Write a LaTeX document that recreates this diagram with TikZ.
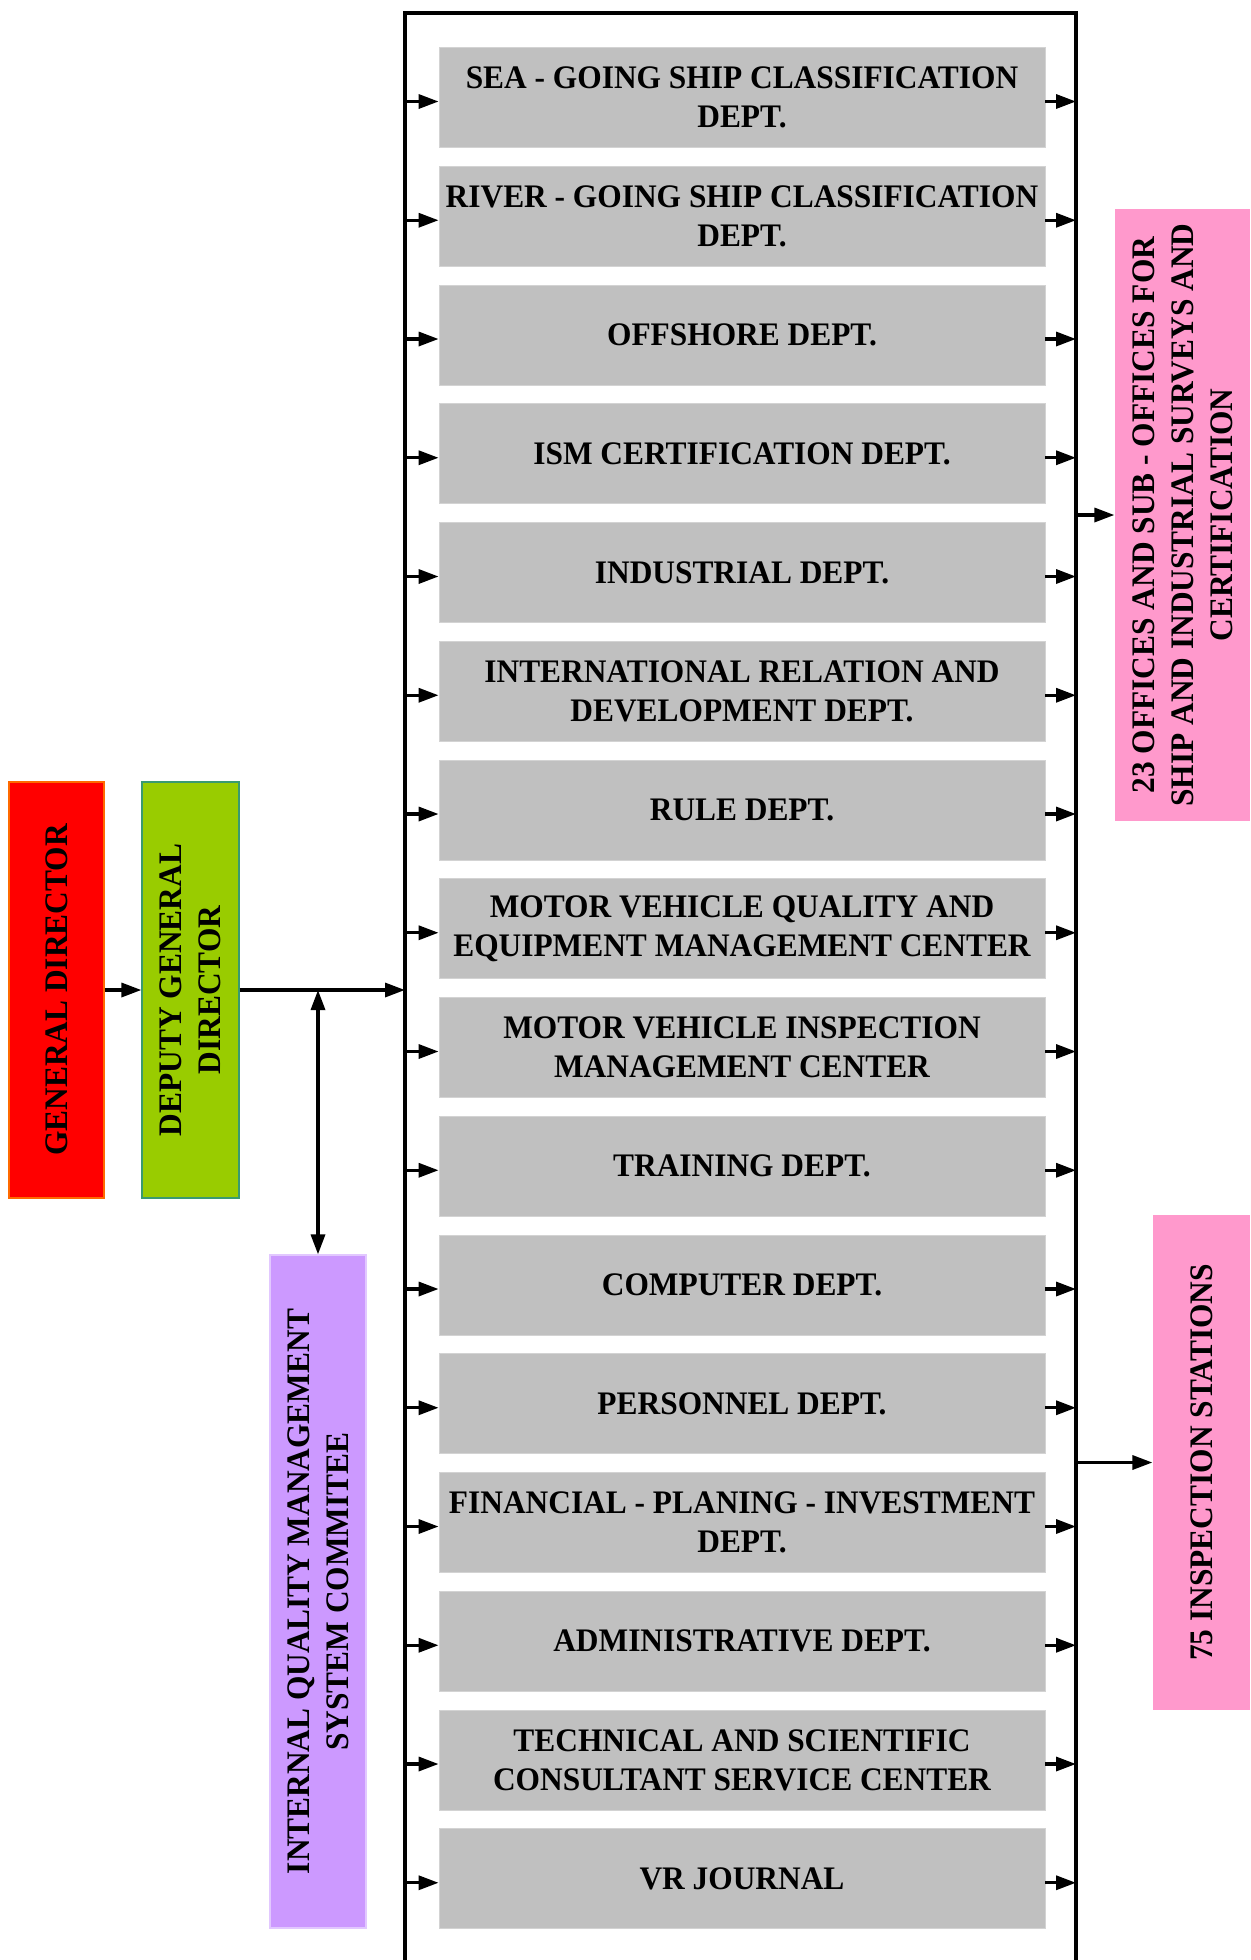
\documentclass[tikz,border=0pt]{standalone}
\usepackage{fontspec}
\setmainfont[FakeStretch=0.955]{Liberation Serif}
\usetikzlibrary{arrows.meta,calc}
\definecolor{boxgray}{HTML}{C0C0C0}
\definecolor{gdred}{HTML}{FF0000}
\definecolor{gdedge}{HTML}{FF6A00}
\definecolor{dgdgreen}{HTML}{99CC00}
\definecolor{dgdedge}{HTML}{3A9A70}
\definecolor{iqmpurple}{HTML}{CC99FF}
\definecolor{iqmedge}{HTML}{E2C8FF}
\definecolor{officepink}{HTML}{FF99CC}
\begin{document}
\begin{tikzpicture}[x=1bp,y=-1bp,
  every node/.style={font=\bfseries\fontsize{33}{39}\selectfont, align=center, inner sep=0pt},
  dept/.style={fill=boxgray, draw=boxgray!70, line width=0.8bp, minimum width=606bp, minimum height=100bp},
  vbox/.style={rotate=90, line width=1.2bp},
  conn/.style={line width=3.3bp, -{Triangle[length=20bp,width=14bp]}},
  dconn/.style={line width=3.3bp, {Triangle[length=20bp,width=14bp]}-{Triangle[length=20bp,width=14bp]}},
  frameline/.style={line width=3.5bp}
]
\useasboundingbox (0,0) rectangle (1250,1960);

% frame
\coordinate (frameL) at (405,13);
\coordinate (frameR) at (1076,13);
\draw[frameline] (405,1960) -- (frameL) -- (frameR) -- (1076,1960);

% departments
\foreach \i/\t in {
  0/{SEA - GOING SHIP CLASSIFICATION\\DEPT.},
  1/{RIVER - GOING SHIP CLASSIFICATION\\DEPT.},
  2/{OFFSHORE DEPT.},
  3/{ISM CERTIFICATION DEPT.},
  4/{INDUSTRIAL DEPT.},
  5/{INTERNATIONAL RELATION AND\\DEVELOPMENT DEPT.},
  6/{RULE DEPT.},
  7/{MOTOR VEHICLE QUALITY AND\\EQUIPMENT MANAGEMENT CENTER},
  8/{MOTOR VEHICLE INSPECTION\\MANAGEMENT CENTER},
  9/{TRAINING DEPT.},
  10/{COMPUTER DEPT.},
  11/{PERSONNEL DEPT.},
  12/{FINANCIAL - PLANING - INVESTMENT\\DEPT.},
  13/{ADMINISTRATIVE DEPT.},
  14/{TECHNICAL AND SCIENTIFIC\\CONSULTANT SERVICE CENTER},
  15/{VR JOURNAL}} {
  \node[dept] (b\i) at (742, 97.5+118.75*\i) {\t};
  \draw[conn] ($(b\i.west -| frameL)+(0,4)$) -- ($(b\i.west)+(0,4)$);
  \draw[conn] ($(b\i.east)+(0,4)$) -- ($(b\i.east -| frameR)+(0,4)$);
}

% left side
\node[vbox, fill=gdred, draw=gdedge, minimum width=416bp, minimum height=95bp] (gd) at (56.5,990) {GENERAL DIRECTOR};
\node[vbox, fill=dgdgreen, draw=dgdedge, minimum width=416bp, minimum height=97bp] (dgd) at (190.5,990) {DEPUTY GENERAL\\DIRECTOR};
\node[vbox, fill=iqmpurple, draw=iqmedge, minimum width=673bp, minimum height=96bp] (iqm) at (318,1591.5) {INTERNAL QUALITY MANAGEMENT\\SYSTEM COMMITEE};

\draw[conn] (gd) -- (dgd);
\draw[conn] (dgd) -- (dgd -| frameL);
\coordinate (junc) at (318,990);
\draw[dconn] (junc) -- (iqm);

% right side
\node[vbox, fill=officepink, minimum width=612bp, minimum height=135bp] (offices) at (1182.5,515) {23 OFFICES AND SUB - OFFICES FOR\\SHIP AND INDUSTRIAL SURVEYS AND\\CERTIFICATION};
\node[vbox, fill=officepink, minimum width=495bp, minimum height=97bp] (stations) at (1201.5,1462.5) {75 INSPECTION STATIONS};

\draw[conn] (frameR |- offices) -- (offices);
\draw[conn] (frameR |- stations) -- (stations);
\end{tikzpicture}
\end{document}
